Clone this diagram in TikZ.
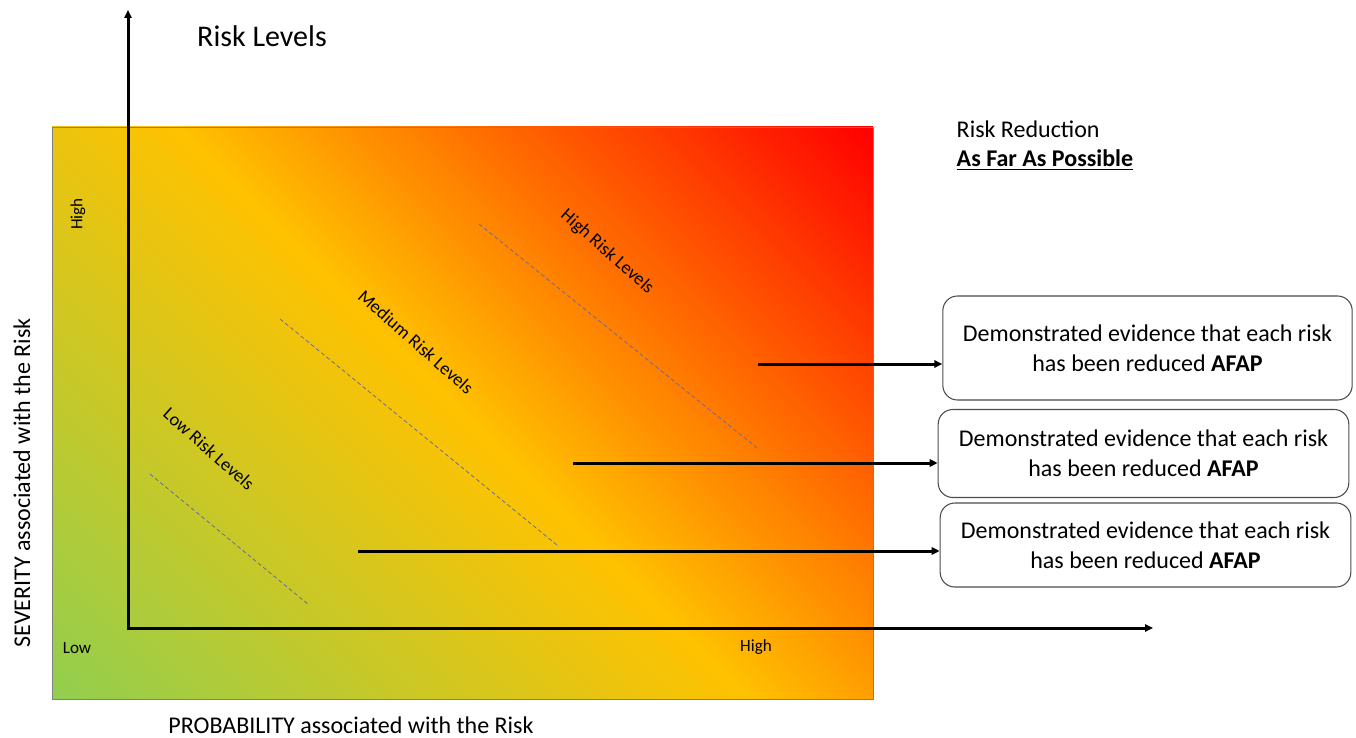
\documentclass[tikz,border=0pt]{standalone}
\usepackage{fontspec}
\setmainfont{Carlito}
\usetikzlibrary{arrows.meta}
\pgfdeclarehorizontalshading{riskfade}{100bp}{rgb(0bp)=(0.57,0.81,0.31); rgb(14.6bp)=(0.57,0.81,0.31); rgb(50bp)=(1,0.76,0); rgb(85.4bp)=(1,0,0); rgb(100bp)=(1,0,0)}

\begin{document}
\begin{tikzpicture}[x=0.75pt,y=-0.75pt,>={Triangle[length=6pt,width=5.5pt]},
  evbox/.style={draw=black!70,rounded corners=11pt,line width=0.8pt,align=center,font=\fontsize{18}{22.5}\selectfont},
  big/.style={font=\fontsize{18}{21}\selectfont},
  lvl/.style={font=\fontsize{13.8}{16}\selectfont,rotate=-41.5},
  tick/.style={font=\fontsize{12.8}{15}\selectfont},
  zone/.style={draw=gray!85!blue,dash pattern=on 3pt off 2pt,line width=0.6pt}]
  \useasboundingbox (0,0) rectangle (1356,738);
  \shade[shading=riskfade,shading angle=45,draw=black!50,line width=0.6pt] (52,127) rectangle (873,699);
  % axes
  \coordinate (orig) at (128,628);
  \coordinate (ytop) at (128,10);
  \coordinate (xend) at (1153,628);
  \draw[<->,line width=2.25pt] (ytop) -- (orig) -- (xend);
  \node[font=\fontsize{22.5}{26}\selectfont] (title) at (262,36) {Risk Levels};
  \node[big,rotate=90] (sev) at (22,483) {SEVERITY associated with the Risk};
  \node[big,inner sep=1pt] (prob) at (351,725) {PROBABILITY associated with the Risk};
  \node[tick,rotate=90] (yhi) at (78,214) {High};
  \node[tick] (ylo) at (77,648) {Low};
  \node[tick] (xhi) at (756,647) {High};
  % risk zones
  \draw[zone] (150,474) -- (309,605);
  \draw[zone] (280,319) -- (557,545);
  \draw[zone] (479,224) -- (757,448);
  \node[lvl] (lowlbl) at (209,449) {Low Risk Levels};
  \node[lvl] (medlbl) at (416,342) {Medium Risk Levels};
  \node[lvl] (highlbl) at (607,252) {High Risk Levels};
  % AFAP
  \node[big,anchor=west] (red) at (952,129) {Risk Reduction};
  \node[big,anchor=west] (afap) at (952,160) {\underline{\textbf{As Far As Possible}}};
  \node[evbox,minimum width=307pt,minimum height=78pt] (ev1) at (1147.5,348) {Demonstrated evidence that each risk\\has been reduced \textbf{AFAP}};
  \node[evbox,minimum width=308pt,minimum height=66pt] (ev2) at (1143.5,453.5) {Demonstrated evidence that each risk\\has been reduced \textbf{AFAP}};
  \node[evbox,minimum width=308pt,minimum height=63pt] (ev3) at (1145.5,545) {Demonstrated evidence that each risk\\has been reduced \textbf{AFAP}};
  \coordinate (a1) at (758,364);
  \coordinate (a2) at (573,463);
  \coordinate (a3) at (358,551);
  \draw[->,line width=2.25pt] (a1) -- (a1 -| ev1.west);
  \draw[->,line width=2.25pt] (a2) -- (a2 -| ev2.west);
  \draw[->,line width=2.25pt] (a3) -- (a3 -| ev3.west);
\end{tikzpicture}
\end{document}
